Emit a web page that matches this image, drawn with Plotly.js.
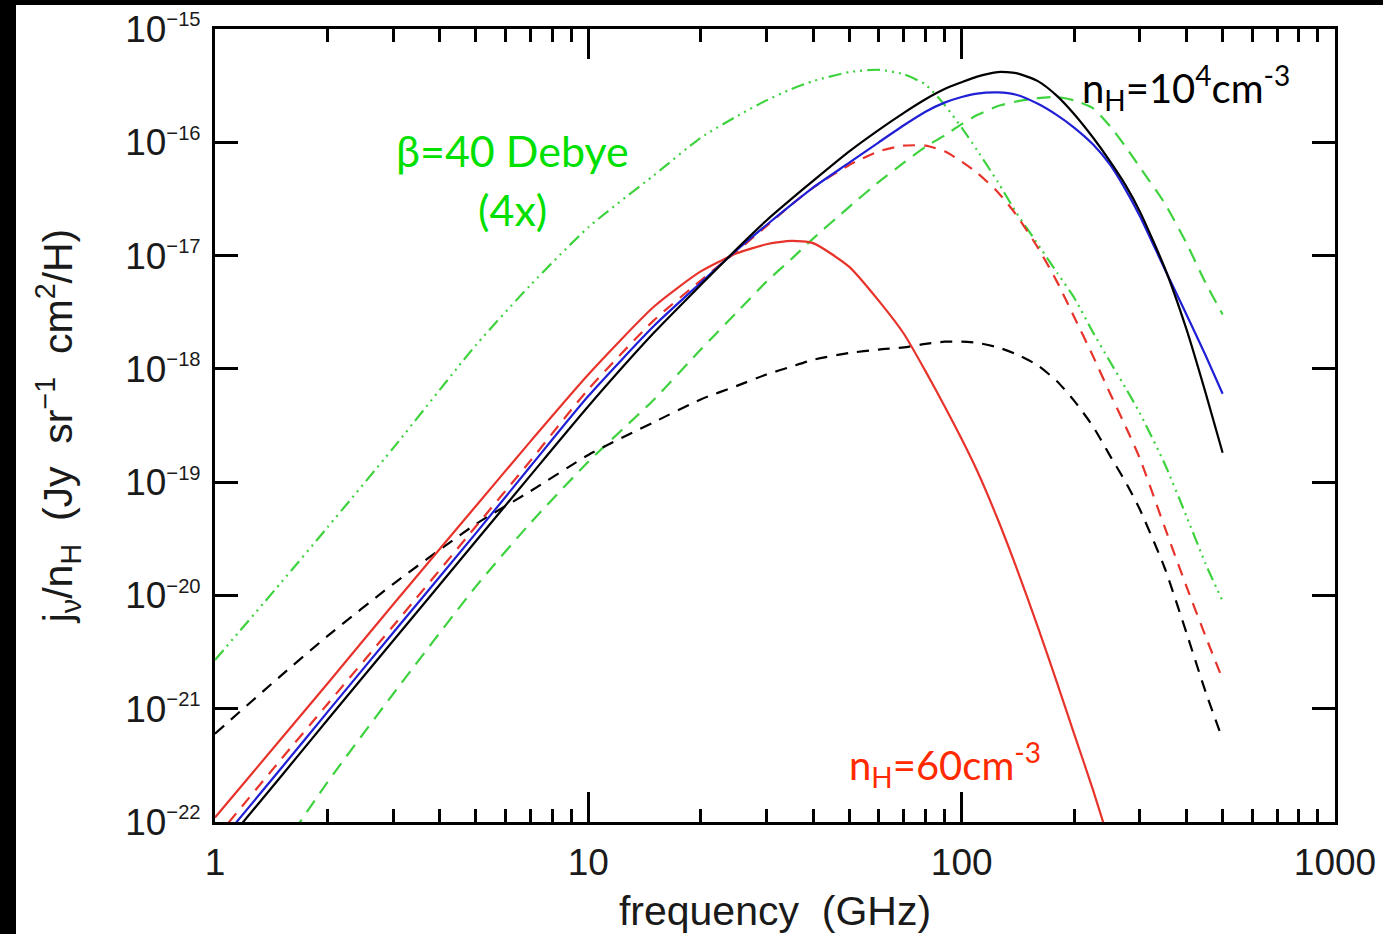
<!DOCTYPE html>
<html><head><meta charset="utf-8">
<script src="https://cdn.plot.ly/plotly-3.0.1.min.js"></script>
<style>
html,body{margin:0;padding:0;background:#000;width:1383px;height:934px;overflow:hidden;}
#plot{position:absolute;left:16px;top:5px;width:1367px;height:929px;background:#fff;}
</style></head><body><div id="plot"></div>
<script>
// frequency grid (GHz)
const freqGHz = [1, 1.5, 2, 3, 5, 7, 10, 15, 20, 25, 30, 35, 40, 50, 60, 70, 80, 90, 100, 110, 125, 140, 160, 180, 200, 225, 250, 275, 300, 350, 400, 450, 500];

// log10 of j_nu / n_H  (Jy sr^-1 cm^2 / H)
const blackSolidLog  = [-22.30, -21.60, -21.10, -20.40, -19.52, -18.94, -18.33, -17.68, -17.26, -16.94, -16.69, -16.50, -16.34, -16.08, -15.89, -15.74, -15.62, -15.53, -15.47, -15.42, -15.38, -15.39, -15.46, -15.59, -15.75, -15.96, -16.17, -16.38, -16.61, -17.11, -17.65, -18.21, -18.74];
const blueSolidLog   = [-22.23, -21.53, -21.03, -20.33, -19.45, -18.86, -18.24, -17.62, -17.24, -16.95, -16.73, -16.55, -16.40, -16.18, -16.00, -15.85, -15.73, -15.65, -15.60, -15.57, -15.56, -15.58, -15.66, -15.76, -15.87, -16.02, -16.20, -16.42, -16.65, -17.12, -17.52, -17.88, -18.22];
const redSolidLog    = [-21.96, -21.27, -20.78, -20.08, -19.21, -18.64, -18.05, -17.45, -17.14, -16.98, -16.90, -16.87, -16.89, -17.10, -17.40, -17.69, -18.02, -18.33, -18.62, -18.90, -19.33, -19.75, -20.28, -20.77, -21.22, -21.72, -22.20, null, null, null, null, null, null];
const redDashedLog   = [-22.15, -21.45, -20.96, -20.27, -19.39, -18.81, -18.18, -17.57, -17.22, -16.96, -16.74, -16.55, -16.40, -16.20, -16.08, -16.03, -16.03, -16.08, -16.17, -16.27, -16.44, -16.64, -16.93, -17.23, -17.54, -17.89, -18.22, -18.51, -18.79, -19.40, -19.92, -20.36, -20.74];
const blackDashedLog = [-21.22, -20.71, -20.36, -19.90, -19.37, -19.08, -18.76, -18.47, -18.27, -18.15, -18.05, -17.98, -17.92, -17.86, -17.83, -17.81, -17.78, -17.76, -17.76, -17.77, -17.81, -17.87, -17.97, -18.11, -18.28, -18.51, -18.77, -19.00, -19.24, -19.76, -20.33, -20.85, -21.27];
const greenDashedLog = [null, -22.25, -21.65, -20.87, -19.92, -19.36, -18.82, -18.27, -17.83, -17.50, -17.23, -17.03, -16.85, -16.57, -16.35, -16.18, -16.04, -15.94, -15.84, -15.76, -15.68, -15.64, -15.61, -15.60, -15.63, -15.70, -15.86, -16.04, -16.22, -16.54, -16.89, -17.24, -17.52];
const greenDashDotLog = [-20.57, -19.89, -19.40, -18.70, -17.79, -17.26, -16.75, -16.29, -15.96, -15.77, -15.63, -15.53, -15.46, -15.38, -15.36, -15.40, -15.49, -15.67, -15.87, -16.07, -16.35, -16.62, -16.90, -17.15, -17.37, -17.68, -17.94, -18.17, -18.39, -18.84, -19.30, -19.72, -20.05];

// axis ticks
const xTickVals = [1, 10, 100, 1000];
const xTickText = ['1', '10', '100', '1000'];
const xMinorVals = [2,3,4,5,6,7,8,9,20,30,40,50,60,70,80,90,200,300,400,500,600,700,800,900];
const yTickVals = [1e-22, 1e-21, 1e-20, 1e-19, 1e-18, 1e-17, 1e-16, 1e-15];
const yExponents = ['−22', '−21', '−20', '−19', '−18', '−17', '−16', '−15'];

const yTickText = yExponents.map(e => '10<sup><span style="font-size:78%">' + e + '</span></sup>');
const toLin = arr => arr.map(v => v === null ? null : Math.pow(10, v));

const RED = '#e8332b', BLUE = '#1f1fd6', GREEN = '#3ed23e', BLACK = '#000000';

function tr(ylog, color, dash) {
  return {x: freqGHz, y: toLin(ylog), type: 'scatter', mode: 'lines',
    line: {color: color, width: 2.2, dash: dash, shape: 'spline', smoothing: 0.6},
    connectgaps: false, hoverinfo: 'skip'};
}

const data = [
  tr(greenDashDotLog, GREEN, '13px,5px,2px,5px,2px,5px,2px,5px'),
  tr(greenDashedLog, GREEN, '14px,9px'),
  tr(blackDashedLog, BLACK, '12px,9px'),
  tr(redDashedLog, RED, '12px,9px'),
  tr(redSolidLog, RED, 'solid'),
  tr(blueSolidLog, BLUE, 'solid'),
  tr(blackSolidLog, BLACK, 'solid')
];

const tickFont = {family: '"Liberation Sans", Arial, sans-serif', size: 37, color: '#1a1a1a'};
const annFont = '"Lato", "Noto Sans", sans-serif';
const NB = '\u00a0';

const layout = {
  width: 1367, height: 929,
  margin: {l: 199, r: 48, t: 24, b: 112, pad: 0},
  paper_bgcolor: '#ffffff', plot_bgcolor: '#ffffff',
  showlegend: false,
  xaxis: {
    type: 'log', range: [0, 3], automargin: false,
    showline: true, linecolor: '#000', linewidth: 3, mirror: 'ticks',
    ticks: 'inside', ticklen: 30, tickwidth: 3, tickcolor: '#000',
    tickmode: 'array', tickvals: xTickVals, ticktext: xTickText,
    tickfont: tickFont, ticklabelstandoff: 6,
    showgrid: false, zeroline: false,
    minor: {ticks: 'inside', ticklen: 13, tickwidth: 3, tickcolor: '#000', tickmode: 'array', tickvals: xMinorVals, showgrid: false},
    title: {text: 'frequency' + NB + NB + '(GHz)', font: {family: '"Liberation Sans", Arial, sans-serif', size: 41, color: '#1a1a1a'}, standoff: 14}
  },
  yaxis: {
    type: 'log', range: [-22, -15], automargin: false,
    showline: true, linecolor: '#000', linewidth: 3, mirror: 'ticks',
    ticks: 'inside', ticklen: 23, tickwidth: 3, tickcolor: '#000',
    tickmode: 'array', tickvals: yTickVals, ticktext: yTickText,
    tickfont: tickFont, ticklabelstandoff: 4,
    showgrid: false, zeroline: false,
    title: {text: 'j<sub>ν</sub>/n<sub>H</sub>' + NB + NB + '(Jy' + NB + NB + 'sr<sup>−1</sup>' + NB + NB + 'cm<sup>2</sup>/H)',
      font: {family: '"Liberation Sans", Arial, sans-serif', size: 41, color: '#1a1a1a'}, standoff: 40}
  },
  annotations: [
    {xref: 'paper', yref: 'paper', x: 0.266, y: 0.847, text: 'β=40 Debye', showarrow: false,
      font: {family: annFont, size: 43, color: '#00e000'}, xanchor: 'center', yanchor: 'middle'},
    {xref: 'paper', yref: 'paper', x: 0.266, y: 0.772, text: '(4x)', showarrow: false,
      font: {family: annFont, size: 43, color: '#00e000'}, xanchor: 'center', yanchor: 'middle'},
    {xref: 'paper', yref: 'paper', x: 0.867, y: 0.926, text: 'n<sub>H</sub>=10<sup>4</sup>cm<sup>-3</sup>', showarrow: false,
      font: {family: annFont, size: 40, color: '#000000'}, xanchor: 'center', yanchor: 'middle'},
    {xref: 'paper', yref: 'paper', x: 0.652, y: 0.072, text: 'n<sub>H</sub>=60cm<sup>-3</sup>', showarrow: false,
      font: {family: annFont, size: 40, color: '#ff2a00'}, xanchor: 'center', yanchor: 'middle'}
  ]
};

Plotly.newPlot('plot', data, layout, {staticPlot: true, displayModeBar: false});
</script></body></html>
